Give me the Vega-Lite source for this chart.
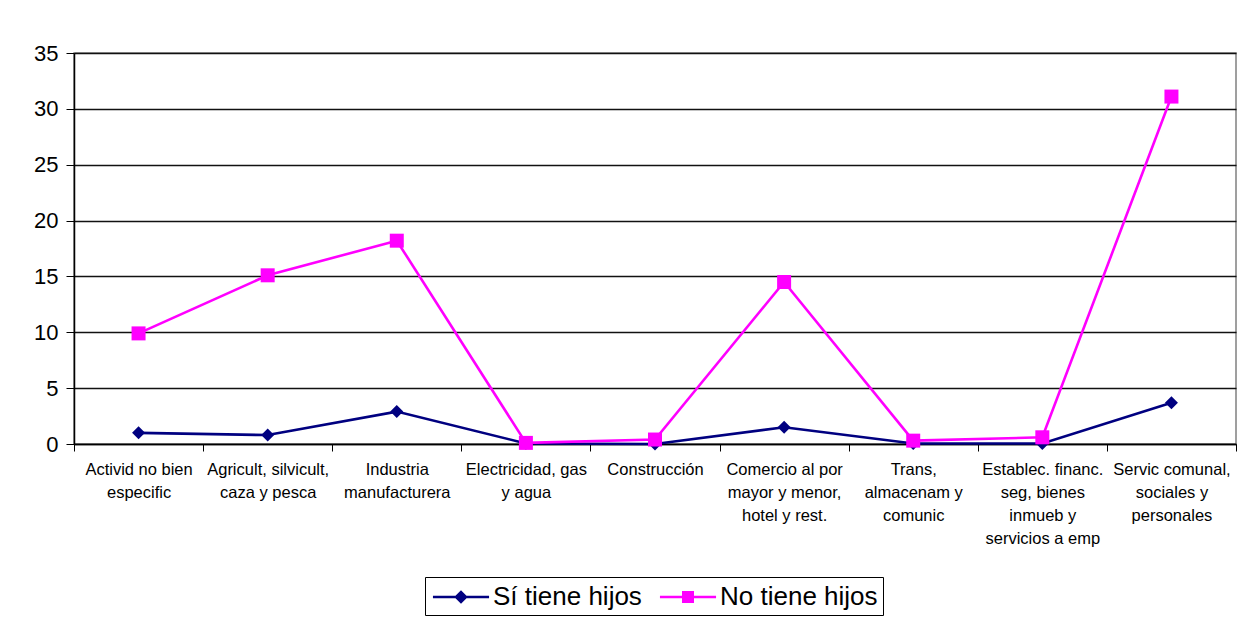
{
  "$schema": "https://vega.github.io/schema/vega-lite/v6.json",
  "width": 1162,
  "height": 391,
  "autosize": {"type": "none"},
  "padding": {"left": 74, "top": 53, "right": 9, "bottom": 174},
  "background": "white",
  "config": {
    "font": "Liberation Sans",
    "view": {"stroke": "#808080", "strokeWidth": 1.5}
  },
  "data": {
    "values": [
      {"cat": "Activid no bien|especific", "serie": "Sí tiene hijos", "valor": 1.0},
      {"cat": "Agricult, silvicult,|caza y pesca", "serie": "Sí tiene hijos", "valor": 0.8},
      {"cat": "Industria|manufacturera", "serie": "Sí tiene hijos", "valor": 2.9},
      {"cat": "Electricidad, gas|y agua", "serie": "Sí tiene hijos", "valor": 0.05},
      {"cat": "Construcción", "serie": "Sí tiene hijos", "valor": 0.0},
      {"cat": "Comercio al por|mayor y menor,|hotel y rest.", "serie": "Sí tiene hijos", "valor": 1.5},
      {"cat": "Trans,|almacenam y|comunic", "serie": "Sí tiene hijos", "valor": 0.05},
      {"cat": "Establec. financ.|seg, bienes|inmueb y|servicios  a emp", "serie": "Sí tiene hijos", "valor": 0.05},
      {"cat": "Servic comunal,|sociales y|personales", "serie": "Sí tiene hijos", "valor": 3.7},
      {"cat": "Activid no bien|especific", "serie": "No tiene hijos", "valor": 9.9},
      {"cat": "Agricult, silvicult,|caza y pesca", "serie": "No tiene hijos", "valor": 15.1},
      {"cat": "Industria|manufacturera", "serie": "No tiene hijos", "valor": 18.2},
      {"cat": "Electricidad, gas|y agua", "serie": "No tiene hijos", "valor": 0.1},
      {"cat": "Construcción", "serie": "No tiene hijos", "valor": 0.4},
      {"cat": "Comercio al por|mayor y menor,|hotel y rest.", "serie": "No tiene hijos", "valor": 14.5},
      {"cat": "Trans,|almacenam y|comunic", "serie": "No tiene hijos", "valor": 0.3},
      {"cat": "Establec. financ.|seg, bienes|inmueb y|servicios  a emp", "serie": "No tiene hijos", "valor": 0.6},
      {"cat": "Servic comunal,|sociales y|personales", "serie": "No tiene hijos", "valor": 31.1}
    ]
  },
  "encoding": {
    "x": {
      "field": "cat",
      "type": "nominal",
      "sort": null,
      "bandPosition": 0.5,
      "scale": {"type": "band", "paddingInner": 0, "paddingOuter": 0},
      "axis": {
        "title": null,
        "labelAngle": 0,
        "labelExpr": "split(datum.label, '|')",
        "labelFontSize": 16.5,
        "labelLineHeight": 23,
        "labelColor": "#000",
        "labelPadding": 10,
        "labelBaseline": "top",
        "labelLimit": 0,
        "tickBand": "extent",
        "tickSize": 7,
        "tickColor": "#000",
        "domainColor": "#000",
        "domainWidth": 1.5,
        "grid": false
      }
    },
    "y": {
      "field": "valor",
      "type": "quantitative",
      "scale": {"domain": [0, 35], "nice": false},
      "axis": {
        "title": null,
        "values": [0, 5, 10, 15, 20, 25, 30, 35],
        "labelFontSize": 22,
        "labelColor": "#000",
        "labelPadding": 8,
        "tickSize": 8,
        "tickColor": "#000",
        "domainColor": "#000",
        "domainWidth": 1.5,
        "grid": true,
        "gridColor": "#111",
        "gridWidth": 1.4
      }
    }
  },
  "layer": [
    {
      "mark": {"type": "line", "strokeWidth": 2.6},
      "encoding": {
        "color": {
          "field": "serie",
          "type": "nominal",
          "sort": null,
          "scale": {"domain": ["Sí tiene hijos", "No tiene hijos"], "range": ["#000080", "#FF00FF"]},
          "legend": {
            "title": null,
            "orient": "none",
            "legendX": 351,
            "legendY": 524,
            "direction": "horizontal",
            "columns": 2,
            "padding": 5,
            "strokeColor": "#000",
            "fillColor": "white",
            "labelFontSize": 26,
            "labelColor": "#000",
            "labelLimit": 0,
            "symbolSize": 900,
            "symbolOffset": 16,
            "labelOffset": 17,
            "columnPadding": 15,
            "symbolStrokeWidth": 0,
            "encode": {
              "symbols": {
                "update": {
                  "shape": {"signal": "datum.value === 'Sí tiene hijos' ? 'M-1.87,-0.08L1.87,-0.08L1.87,0.08L-1.87,0.08Z M0,-0.45L0.45,0L0,0.45L-0.45,0Z' : 'M-1.87,-0.08L1.87,-0.08L1.87,0.08L-1.87,0.08Z M-0.4,-0.4L0.4,-0.4L0.4,0.4L-0.4,0.4Z'"},
                  "fill": {"signal": "scale('color', datum.value)"},
                  "fillOpacity": {"value": 1},
                  "strokeWidth": {"value": 0}
                }
              }
            }
          }
        }
      }
    },
    {
      "transform": [{"filter": "datum.serie === 'Sí tiene hijos'"}],
      "mark": {"type": "point", "filled": true, "opacity": 1, "shape": "diamond", "size": 169, "color": "#000080"}
    },
    {
      "transform": [{"filter": "datum.serie === 'No tiene hijos'"}],
      "mark": {"type": "point", "filled": true, "opacity": 1, "shape": "square", "size": 196, "color": "#FF00FF"}
    }
  ]
}
